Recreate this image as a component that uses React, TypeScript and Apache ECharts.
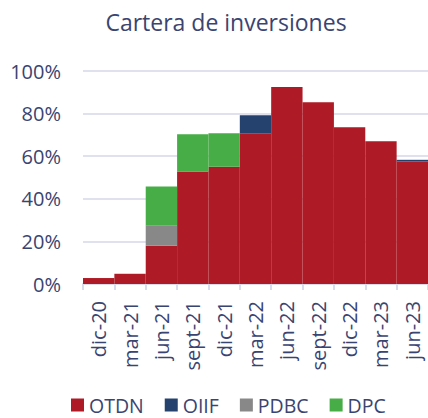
import React, { useEffect, useRef } from "react";
import * as echarts from "echarts";

const categories = ["dic-20", "mar-21", "jun-21", "sept-21", "dic-21", "mar-22", "jun-22", "sept-22", "dic-22", "mar-23", "jun-23"];
const otdn = [2.8, 4.8, 18, 52.8, 55.1, 70.8, 92.5, 85.3, 73.6, 67, 57.5];
const oiif = [0, 0, 0, 0, 0, 8.4, 0, 0, 0, 0, 0.8];
const pdbc = [0, 0, 9.3, 0, 0, 0, 0, 0, 0, 0, 0];
const dpc = [0, 0, 18.5, 17.5, 15.7, 0, 0, 0, 0, 0, 0];
const yTicks = [0, 20, 40, 60, 80, 100];

const FONT = "Open Sans";
const TEXT = "#3a4471";

export default function App() {
  const ref = useRef<HTMLDivElement>(null);
  useEffect(() => {
    if (!ref.current) return;
    const chart = echarts.init(ref.current, undefined, { renderer: "svg" });
    const mk = (name: string, data: number[], color: string) => ({
      name,
      type: "bar",
      stack: "total",
      data,
      barCategoryGap: "0%",
      itemStyle: { color },
      emphasis: { disabled: true },
    });
    chart.setOption({
      animation: false,
      textStyle: { fontFamily: FONT, color: TEXT },
      title: {
        text: "Cartera de inversiones",
        left: 221,
        top: 5,
        textAlign: "center",
        textStyle: { fontFamily: FONT, fontSize: 23, fontWeight: "normal", color: TEXT },
      },
      legend: {
        data: ["OTDN", "OIIF", "PDBC", "DPC"],
        left: 66,
        top: 390,
        icon: "rect",
        itemWidth: 13,
        itemHeight: 13,
        itemGap: 21,
        textStyle: { fontFamily: FONT, fontSize: 19.5, color: TEXT, lineHeight: 20 },
      },
      grid: { left: 83, right: 0, top: 71, bottom: 134, containLabel: false },
      xAxis: {
        type: "category",
        data: categories,
        boundaryGap: true,
        axisLine: { lineStyle: { color: "#d9dcec", width: 2 } },
        axisTick: { show: true, length: 6, lineStyle: { color: "#d9dcec", width: 2 } },
        axisLabel: { rotate: 90, margin: 17, fontFamily: FONT, fontSize: 20, color: TEXT, interval: 0 },
      },
      yAxis: {
        type: "value",
        min: yTicks[0],
        max: yTicks[yTicks.length - 1],
        interval: 20,
        axisLine: { show: false },
        axisTick: { show: false },
        splitLine: { lineStyle: { color: "#dfe1ef", width: 2 } },
        axisLabel: { formatter: "{value}%", margin: 22, fontFamily: FONT, fontSize: 20, color: TEXT },
      },
      series: [
        mk("OTDN", otdn, "#ae1a25"),
        mk("OIIF", oiif, "#25426f"),
        mk("PDBC", pdbc, "#888888"),
        mk("DPC", dpc, "#47ad47"),
      ],
    });
    return () => chart.dispose();
  }, []);
  return <div ref={ref} style={{ width: 428, height: 418, position: "absolute", left: 0, top: 0 }} />;
}
